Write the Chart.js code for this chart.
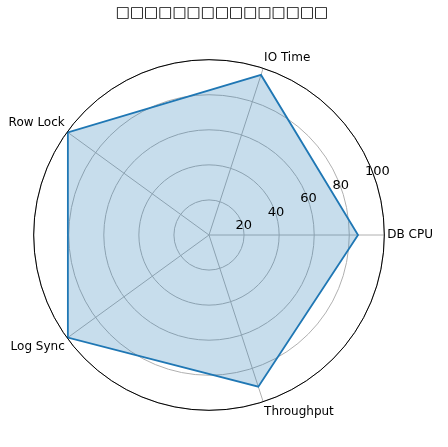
<!DOCTYPE html><html><head><meta charset="utf-8">
<script src="https://cdn.jsdelivr.net/npm/chart.js@4/dist/chart.umd.min.js"></script>
<style>body{margin:0;background:#fff}#w{width:448px;height:447px;position:relative}</style></head>
<body><div id="w"><canvas id="c"></canvas></div>
<script>
const categories=["DB CPU","Throughput","Log Sync","Row Lock","IO Time"];
const values=[85,91,99.5,99.5,96];
const tickValues=[20,40,60,80,100];
const titleText="□□□□□□□□□□□□□□□";
const tickPlugin={id:'tk',afterDraw(ch){const s=ch.scales.r,ctx=ch.ctx;ctx.save();
ctx.font='13px "DejaVu Sans"';ctx.fillStyle='#000';ctx.textAlign='left';ctx.textBaseline='middle';
const a=-22.5*Math.PI/180;
tickValues.forEach(v=>{const d=s.getDistanceFromCenterForValue(v);ctx.fillText(String(v),s.xCenter+d*Math.cos(a)-6,s.yCenter+d*Math.sin(a)+4);});
ctx.beginPath();ctx.arc(s.xCenter,s.yCenter,s.drawingArea,0,2*Math.PI);ctx.strokeStyle='#000';ctx.lineWidth=1;ctx.stroke();ctx.restore();}};
new Chart(document.getElementById('c'),{type:'radar',
data:{labels:categories,datasets:[{data:values,borderColor:'#1f77b4',backgroundColor:'rgba(31,119,180,0.25)',borderWidth:1.8,pointRadius:0}]},
options:{responsive:true,maintainAspectRatio:false,animation:false,
layout:{padding:{top:-4,left:-18,right:-14,bottom:-8}},
plugins:{legend:{display:false},tooltip:{enabled:false},
title:{display:true,text:titleText,font:{size:15,family:'DejaVu Sans',weight:'bold'},color:'#000',padding:{top:8,bottom:2}}},
scales:{r:{min:0,max:100,startAngle:90,
ticks:{display:false,stepSize:20},
grid:{circular:true,color:'#b0b0b0'},angleLines:{color:'#b0b0b0'},
pointLabels:{font:{size:12,family:'DejaVu Sans'},color:'#000',padding:3}}}},
plugins:[tickPlugin]});
</script></body></html>
